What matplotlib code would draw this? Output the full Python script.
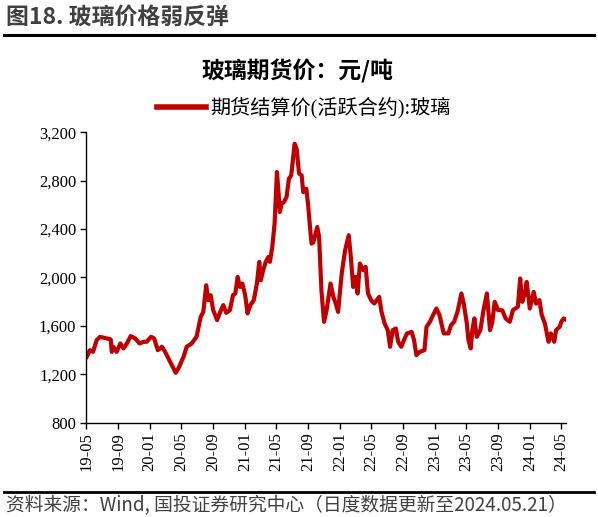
import matplotlib
matplotlib.use("Agg")
import matplotlib.pyplot as plt
import matplotlib.dates as mdates
from matplotlib.lines import Line2D
from matplotlib.ticker import FuncFormatter, MultipleLocator
import pandas as pd

plt.rcParams['font.family'] = ['Liberation Serif', 'Noto Sans CJK SC', 'DejaVu Sans']

# --- 数据：期货结算价(活跃合约):玻璃，元/吨 ---
dates = [
    "2019-05-04", "2019-05-16", "2019-05-28", "2019-06-11", "2019-06-24", "2019-07-19",
    "2019-08-04", "2019-08-08", "2019-08-14", "2019-08-27", "2019-09-10", "2019-09-22",
    "2019-10-05", "2019-10-20", "2019-11-06", "2019-11-23", "2019-12-08", "2019-12-20",
    "2020-01-06", "2020-01-18", "2020-02-01", "2020-02-17", "2020-02-29", "2020-03-16",
    "2020-04-01", "2020-04-10", "2020-04-22", "2020-05-10", "2020-05-22", "2020-06-10",
    "2020-06-29", "2020-07-15", "2020-07-25", "2020-08-05", "2020-08-13", "2020-08-22",
    "2020-09-01", "2020-09-16", "2020-09-28", "2020-10-10", "2020-10-21", "2020-11-04",
    "2020-11-16", "2020-11-25", "2020-12-04", "2020-12-13", "2020-12-22", "2021-01-02",
    "2021-01-11", "2021-01-22", "2021-02-04", "2021-02-16", "2021-02-25", "2021-03-03",
    "2021-03-12", "2021-03-22", "2021-04-01", "2021-04-07", "2021-04-16", "2021-04-25",
    "2021-05-04", "2021-05-10", "2021-05-15", "2021-05-22", "2021-05-31", "2021-06-10",
    "2021-06-19", "2021-06-28", "2021-07-11", "2021-07-19", "2021-07-28", "2021-08-07",
    "2021-08-13", "2021-08-25", "2021-09-01", "2021-09-08", "2021-09-14", "2021-09-21",
    "2021-10-06", "2021-10-13", "2021-10-22", "2021-11-01", "2021-11-11", "2021-11-26",
    "2021-12-07", "2021-12-16", "2021-12-25", "2022-01-08", "2022-01-21", "2022-02-04",
    "2022-02-12", "2022-02-21", "2022-03-02", "2022-03-10", "2022-03-19", "2022-04-01",
    "2022-04-10", "2022-04-19", "2022-05-01", "2022-05-13", "2022-06-01", "2022-06-10",
    "2022-06-22", "2022-07-04", "2022-07-13", "2022-07-23", "2022-08-04", "2022-08-13",
    "2022-08-25", "2022-09-07", "2022-09-16", "2022-10-04", "2022-10-13", "2022-10-22",
    "2022-11-04", "2022-11-22", "2022-11-30", "2022-12-13", "2022-12-25", "2023-01-07",
    "2023-01-19", "2023-02-04", "2023-02-22", "2023-03-04", "2023-03-16", "2023-03-29",
    "2023-04-13", "2023-04-22", "2023-05-04", "2023-05-10", "2023-05-19", "2023-05-25",
    "2023-06-02", "2023-06-11", "2023-06-25", "2023-07-07", "2023-07-20", "2023-08-01",
    "2023-08-10", "2023-08-19", "2023-09-01", "2023-09-17", "2023-09-30", "2023-10-16",
    "2023-10-28", "2023-11-16", "2023-11-25", "2023-12-03", "2023-12-13", "2023-12-20",
    "2024-01-01", "2024-01-16", "2024-01-25", "2024-02-07", "2024-02-16", "2024-02-28",
    "2024-03-13", "2024-03-22", "2024-04-04", "2024-04-11", "2024-04-25", "2024-05-01",
    "2024-05-10", "2024-05-20",
]
prices = [
    1345, 1400, 1386, 1483, 1510, 1497,
    1489, 1386, 1428, 1386, 1455, 1414,
    1455, 1516, 1497, 1455, 1469, 1469,
    1510, 1497, 1400, 1428, 1386, 1318,
    1249, 1213, 1257, 1345, 1428, 1455,
    1510, 1675, 1716, 1936, 1813, 1854,
    1730, 1648, 1716, 1772, 1708, 1730,
    1854, 1868, 2005, 1922, 1950, 1854,
    1703, 1772, 1813, 1950, 2129, 1978,
    2060, 2129, 2170, 2129, 2252, 2445,
    2871, 2706, 2541, 2610, 2623, 2665,
    2816, 2844, 3105, 3060, 2858, 2844,
    2706, 2733, 2596, 2417, 2280, 2290,
    2417, 2335, 1895, 1634, 1730, 1950,
    1840, 1785, 1716, 2033, 2225, 2349,
    2170, 1922, 2005, 1868, 2115, 2060,
    2088, 1868, 1813, 1785, 1840, 1716,
    1620, 1565, 1428, 1565, 1579, 1469,
    1428, 1497, 1538, 1551, 1483, 1359,
    1386, 1400, 1593, 1634, 1689, 1744,
    1689, 1538, 1538, 1606, 1634, 1716,
    1868, 1785, 1620, 1483, 1414, 1565,
    1662, 1510, 1565, 1730, 1868, 1565,
    1634, 1799, 1730, 1730, 1662, 1634,
    1730, 1758, 1992, 1799, 1868, 1963,
    1744, 1881, 1785, 1813, 1689, 1620,
    1469, 1538, 1469, 1565, 1593, 1634,
    1662, 1650,
]
tick_months = pd.date_range("2019-05-01", "2024-05-01", freq="4MS")

x = pd.to_datetime(dates)
red = "#C00000"

fig = plt.figure(figsize=(5.98, 5.17), dpi=100)
ax = fig.add_axes([0.1438, 0.1822, 0.9473 - 0.1438, 0.7443 - 0.1822])

ax.plot(x, prices, color=red, linewidth=3.0, solid_joinstyle="round")

ax.set_xlim(pd.Timestamp("2019-05-01"), pd.Timestamp("2024-05-21"))
ax.set_ylim(800, 3200)
ax.yaxis.set_major_locator(MultipleLocator(400))
ax.yaxis.set_major_formatter(FuncFormatter(lambda v, p: f"{int(v):,}"))
ax.set_xticks(tick_months)
ax.xaxis.set_major_formatter(mdates.DateFormatter("%y-%m"))
for lab in ax.get_xticklabels():
    lab.set_rotation(90)

for side in ("top", "right"):
    ax.spines[side].set_visible(False)
for side in ("left", "bottom"):
    ax.spines[side].set_linewidth(1.0)
    ax.spines[side].set_color("black")
ax.tick_params(axis="both", direction="out", length=4, width=1.0, labelsize=12,
               colors="black", pad=3)

# 标题与图例
fig.text(0.498, 0.862, "玻璃期货价：元/吨", ha="center", va="center",
         fontsize=16.5, fontweight="bold", family=["Noto Sans CJK SC"])
handle = Line2D([], [], color=red, linewidth=4)
fig.legend([handle], ["期货结算价(活跃合约):玻璃"], loc="center",
           bbox_to_anchor=(0.508, 0.791), frameon=False, handlelength=2.4,
           handletextpad=0.2, prop={"family": ["Liberation Serif", "Noto Sans CJK SC"], "size": 14.5})

# 报告页眉页脚
fig.text(0.01, 0.967, "图18. 玻璃价格弱反弹", ha="left", va="center",
         fontsize=16.5, fontweight="bold", color="#404040", family=["Noto Sans CJK SC"])
fig.add_artist(Line2D([0.007, 0.993], [0.932, 0.932], color="black", linewidth=2.2,
                      transform=fig.transFigure))
fig.add_artist(Line2D([0.007, 0.993], [0.048, 0.048], color="black", linewidth=2.0,
                      transform=fig.transFigure))
fig.text(0.01, 0.024, "资料来源：Wind, 国投证券研究中心（日度数据更新至2024.05.21）",
         ha="left", va="center", fontsize=13.5, style="italic", color="#404040",
         family=["Noto Sans CJK SC"])

fig.savefig("out.png", dpi=100)
